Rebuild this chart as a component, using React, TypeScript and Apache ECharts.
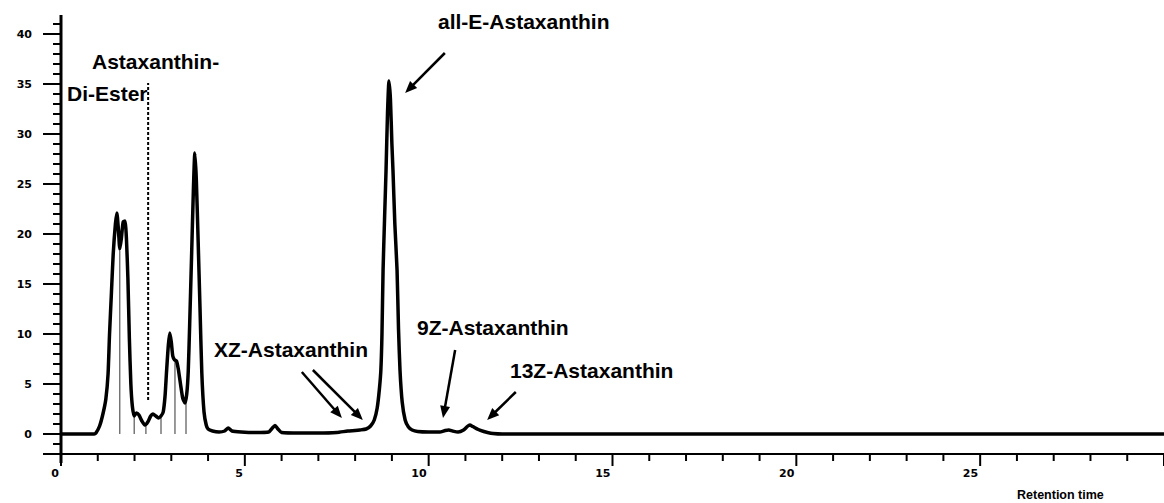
import React, { useEffect, useRef } from "react";
import * as echarts from "echarts";

// Chromatogram trace (retention time in min, detector signal)
const retentionTimes = [
  0, 0.9, 0.95, 1.05, 1.14, 1.22, 1.28, 1.32, 1.37, 1.42, 1.48, 1.52, 1.56, 1.6, 1.64, 1.69, 1.74, 1.78, 1.82,
  1.86, 1.9, 1.94, 1.99, 2.05, 2.12, 2.2, 2.28, 2.36, 2.44, 2.5, 2.58, 2.65, 2.72, 2.78, 2.83, 2.87, 2.92,
  2.96, 3.0, 3.04, 3.09, 3.14, 3.19, 3.25, 3.31, 3.37, 3.42, 3.46, 3.5, 3.55, 3.6, 3.64, 3.68, 3.73, 3.78,
  3.83, 3.89, 3.95, 4.0, 4.12, 4.3, 4.45, 4.55, 4.65, 4.9, 5.3, 5.65, 5.75, 5.82, 5.9, 6.0, 6.5, 7.0, 7.5,
  7.8, 8.0, 8.13, 8.3, 8.42, 8.52, 8.6, 8.66, 8.7, 8.73, 8.76, 8.8, 8.84, 8.88, 8.92, 8.96, 9.0, 9.03, 9.08,
  9.14, 9.18, 9.22, 9.28, 9.36, 9.45, 9.55, 9.7, 10.0, 10.3, 10.45, 10.55, 10.65, 10.8, 10.95, 11.05, 11.12,
  11.2, 11.35, 11.5, 11.6, 11.75, 12, 30,
];
const signal = [
  0, 0, 0.1, 0.8, 2.0, 3.5, 6, 10, 14, 18, 21, 22.1, 20.5, 18.5, 19.5, 21.2, 21.3, 19.5, 15.5,
  9.5, 5, 2.8, 1.8, 2.1, 1.9, 1.3, 0.9, 1.2, 1.8, 2.0, 1.8, 1.6, 1.8, 2.2, 3.8, 6.2, 8.9,
  10.1, 9.2, 7.8, 7.4, 7.3, 6.5, 5.0, 3.6, 3.1, 4.0, 6.2, 11, 17.6, 24.3, 28.1, 25.5, 19.3, 12.7,
  6.1, 2.2, 0.9, 0.5, 0.3, 0.2, 0.3, 0.6, 0.3, 0.2, 0.15, 0.2, 0.6, 0.85, 0.5, 0.15, 0.1, 0.1, 0.15,
  0.3, 0.35, 0.4, 0.5, 0.8, 1.4, 2.6, 4.5, 6.4, 10, 16.4, 21.5, 26.3, 32, 35.3, 33.5, 29, 26.3, 21,
  16.4, 10.5, 6.4, 3.2, 1.4, 0.7, 0.4, 0.25, 0.2, 0.2, 0.35, 0.4, 0.3, 0.2, 0.4, 0.75, 0.9,
  0.75, 0.45, 0.25, 0.15, 0.05, 0, 0,
];

// Integration drop lines
const dropTimes = [1.6, 1.99, 2.31, 2.72, 3.1, 3.4];
const dropTops = [18.3, 1.8, 0.9, 1.8, 7.4, 3.2];

// Di-ester boundary marker
const esterMarkerTime = 2.37;
const esterMarkerRange = [3.4, 35.1];

// Axis ranges and ticks
const xMin = 0;
const xMax = 30;
const yMin = -2;
const yTop = 41.9;
const yAxisStubBottom = -2.9;
const xLabelValues = [0, 5, 10, 15, 20, 25];
const xMajorTicks = [0, 5, 10, 15, 20, 25, 30];
const xMinorTicks = [
  1, 2, 3, 4, 6, 7, 8, 9, 11, 12, 13, 14, 16, 17, 18, 19, 21, 22, 23, 24, 26, 27, 28, 29,
];
const yTickLabels = [0, 5, 10, 15, 20, 25, 30, 35, 40];
const yMajorTicks = [-2, 0, 5, 10, 15, 20, 25, 30, 35, 40];
const yMinorTicks = [
  -1, 1, 2, 3, 4, 6, 7, 8, 9, 11, 12, 13, 14, 16, 17, 18, 19, 21, 22, 23, 24, 26, 27, 28, 29,
  31, 32, 33, 34, 36, 37, 38, 39, 41,
];

// Plot window extents (the grid spans the whole canvas; axes are drawn by hand)
const viewXMin = -1.6591;
const viewXMax = 30;
const viewYMin = -6.9;
const viewYMax = 43.4;

// Annotation arrows (data coordinates: tail -> tip)
const arrowFrom = [
  [10.44, 38.1],
  [6.55, 6.2],
  [6.85, 6.4],
  [10.72, 8.4],
  [12.37, 4.2],
];
const arrowTo = [
  [9.36, 34.1],
  [7.64, 1.6],
  [8.21, 1.4],
  [10.39, 1.6],
  [11.59, 1.4],
];

const annotationTexts = [
  "Astaxanthin-",
  "Di-Ester",
  "all-E-Astaxanthin",
  "XZ-Astaxanthin",
  "9Z-Astaxanthin",
  "13Z-Astaxanthin",
];
const annotationX = [92, 67, 438, 214, 417, 510];
const annotationY = [61, 93, 21, 349, 327, 370];

const axisTitle = "Retention time";

const FONT = '"Liberation Sans", Arial, sans-serif';
const TICK_FONT = '"DejaVu Sans", sans-serif';

function xTickSeries(values: number[], len: number) {
  return {
    type: "custom",
    clip: false,
    silent: true,
    z: 20,
    data: values.map((v) => [v, yMin]),
    renderItem: (_p: any, api: any) => {
      const pt = api.coord([api.value(0), yMin]);
      return {
        type: "rect",
        shape: { x: pt[0] - 1, y: pt[1], width: 2, height: len },
        style: { fill: "#000" },
      };
    },
  };
}

function yTickSeries(values: number[], len: number) {
  return {
    type: "custom",
    clip: false,
    silent: true,
    z: 20,
    data: values.map((v) => [xMin, v]),
    renderItem: (_p: any, api: any) => {
      const pt = api.coord([xMin, api.value(1)]);
      return {
        type: "rect",
        shape: { x: pt[0] - len, y: pt[1] - 1, width: len, height: 2 },
        style: { fill: "#000" },
      };
    },
  };
}

export default function App() {
  const ref = useRef<HTMLDivElement>(null);

  useEffect(() => {
    if (!ref.current) return;
    const chart = echarts.init(ref.current, undefined, { renderer: "svg" });

    const traceData = retentionTimes.map((t, i) => [t, signal[i]]);

    const graphics: any[] = annotationTexts.map((txt, i) => ({
      type: "text",
      x: annotationX[i],
      y: annotationY[i],
      style: {
        text: txt,
        fill: "#000",
        font: `bold 21px ${FONT}`,
        align: "left",
        verticalAlign: "middle",
      },
    }));
    graphics.push({
      type: "text",
      x: 1017,
      y: 495,
      style: {
        text: axisTitle,
        fill: "#000",
        font: `bold 12.5px ${FONT}`,
        align: "left",
        verticalAlign: "middle",
      },
    });

    const option: any = {
      animation: false,
      grid: { left: 0, right: 0, top: 0, bottom: 0 },
      xAxis: {
        type: "value",
        min: viewXMin,
        max: viewXMax,
        show: false,
        splitLine: { show: false },
      },
      yAxis: {
        type: "value",
        min: viewYMin,
        max: viewYMax,
        show: false,
        splitLine: { show: false },
      },
      series: [
        {
          // axis lines
          type: "custom",
          clip: false,
          silent: true,
          data: [[xMin, yMin]],
          renderItem: (_p: any, api: any) => {
            const o = api.coord([xMin, yMin]);
            const xe = api.coord([xMax, yMin]);
            const yt = api.coord([xMin, yTop]);
            const yb = api.coord([xMin, yAxisStubBottom]);
            return {
              type: "group",
              children: [
                {
                  type: "rect",
                  shape: { x: o[0], y: o[1] - 1, width: xe[0] - o[0], height: 2 },
                  style: { fill: "#000" },
                },
                {
                  type: "rect",
                  shape: { x: yt[0] - 1.5, y: yt[1], width: 3, height: yb[1] - yt[1] },
                  style: { fill: "#000" },
                },
              ],
            };
          },
        },
        xTickSeries(xMajorTicks, 12),
        xTickSeries(xMinorTicks, 7),
        yTickSeries(yMajorTicks, 18),
        yTickSeries(yMinorTicks, 8),
        {
          // x tick labels
          type: "custom",
          clip: false,
          silent: true,
          data: xLabelValues.map((v) => [v, yMin]),
          renderItem: (_p: any, api: any) => {
            const v = api.value(0);
            const pt = api.coord([v, yMin]);
            return {
              type: "text",
              x: pt[0] - 2,
              y: pt[1] + 14,
              style: {
                text: String(v),
                fill: "#000",
                font: `bold 11px ${TICK_FONT}`,
                align: "right",
                verticalAlign: "top",
              },
            };
          },
        },
        {
          // y tick labels
          type: "custom",
          clip: false,
          silent: true,
          data: yTickLabels.map((v) => [xMin, v]),
          renderItem: (_p: any, api: any) => {
            const v = api.value(1);
            const pt = api.coord([xMin, v]);
            return {
              type: "text",
              x: pt[0] - 29,
              y: pt[1],
              style: {
                text: String(v),
                fill: "#000",
                font: `bold 11px ${TICK_FONT}`,
                align: "right",
                verticalAlign: "middle",
              },
            };
          },
        },
        {
          type: "custom",
          clip: false,
          silent: true,
          data: dropTimes.map((t, i) => [t, dropTops[i]]),
          renderItem: (_p: any, api: any) => {
            const a = api.coord([api.value(0), 0]);
            const b = api.coord([api.value(0), api.value(1)]);
            return {
              type: "line",
              shape: { x1: a[0], y1: a[1], x2: b[0], y2: b[1] },
              style: { stroke: "#333", lineWidth: 1 },
            };
          },
        },
        {
          type: "custom",
          clip: false,
          silent: true,
          data: [[esterMarkerTime, esterMarkerRange[0], esterMarkerRange[1]]],
          renderItem: (_p: any, api: any) => {
            const a = api.coord([api.value(0), api.value(1)]);
            const b = api.coord([api.value(0), api.value(2)]);
            return {
              type: "line",
              shape: { x1: a[0], y1: a[1], x2: b[0], y2: b[1] },
              style: { stroke: "#000", lineWidth: 2, lineDash: [3, 2] },
            };
          },
        },
        {
          type: "custom",
          clip: false,
          silent: true,
          data: arrowFrom.map((f, i) => [f[0], f[1], arrowTo[i][0], arrowTo[i][1]]),
          renderItem: (_p: any, api: any) => {
            const a = api.coord([api.value(0), api.value(1)]);
            const b = api.coord([api.value(2), api.value(3)]);
            const dx = b[0] - a[0];
            const dy = b[1] - a[1];
            const L = Math.sqrt(dx * dx + dy * dy) || 1;
            const ux = dx / L;
            const uy = dy / L;
            const head = 12;
            const half = 5;
            const bx = b[0] - ux * head;
            const by = b[1] - uy * head;
            return {
              type: "group",
              children: [
                {
                  type: "line",
                  shape: { x1: a[0], y1: a[1], x2: bx + ux * 2, y2: by + uy * 2 },
                  style: { stroke: "#000", lineWidth: 2.5 },
                },
                {
                  type: "polygon",
                  shape: {
                    points: [
                      [b[0], b[1]],
                      [bx - uy * half, by + ux * half],
                      [bx + uy * half, by - ux * half],
                    ],
                  },
                  style: { fill: "#000" },
                },
              ],
            };
          },
        },
        {
          type: "line",
          data: traceData,
          symbol: "none",
          showSymbol: false,
          smooth: 0.2,
          clip: false,
          silent: true,
          lineStyle: { color: "#000", width: 3.5 },
        },
      ],
      graphic: graphics,
    };

    chart.setOption(option);
    return () => chart.dispose();
  }, []);

  return <div ref={ref} style={{ position: "absolute", left: 0, top: 0, width: 1164, height: 503 }} />;
}
